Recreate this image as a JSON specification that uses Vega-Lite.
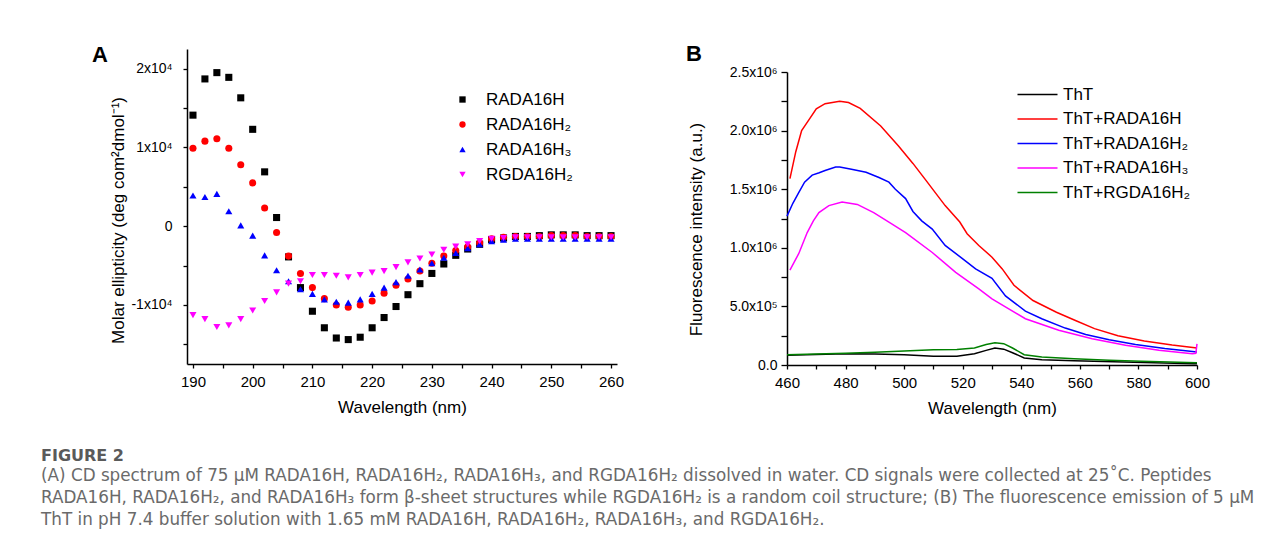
{
  "$schema": "https://vega.github.io/schema/vega-lite/v6.json",
  "background": "white",
  "padding": {"left": 41, "top": 43, "right": 5, "bottom": 5},
  "config": {
    "font": "Liberation Sans",
    "view": {"stroke": null},
    "axis": {
      "grid": false,
      "domainColor": "#000000",
      "domainWidth": 1.5,
      "tickColor": "#000000",
      "tickWidth": 1.3,
      "tickSize": 4,
      "labelColor": "#000000",
      "titleColor": "#000000",
      "labelFont": "Liberation Sans",
      "titleFont": "Liberation Sans",
      "labelFontSize": 15,
      "titleFontSize": 17,
      "titleFontWeight": "normal",
      "labelFlush": false
    },
    "legend": {
      "labelFont": "Liberation Sans",
      "labelFontSize": 17,
      "labelColor": "#000000",
      "padding": 0
    }
  },
  "title": {
    "text": "FIGURE 2",
    "subtitle": [
      "(A) CD spectrum of 75 μM RADA16H, RADA16H₂, RADA16H₃, and RGDA16H₂ dissolved in water. CD signals were collected at 25˚C. Peptides",
      "RADA16H, RADA16H₂, and RADA16H₃ form β-sheet structures while RGDA16H₂ is a random coil structure; (B) The fluorescence emission of 5 μM",
      "ThT in pH 7.4 buffer solution with 1.65 mM RADA16H, RADA16H₂, RADA16H₃, and RGDA16H₂."
    ],
    "orient": "bottom",
    "anchor": "start",
    "frame": "bounds",
    "dx": -51,
    "offset": 32,
    "font": "DejaVu Sans",
    "fontSize": 16,
    "fontWeight": "bold",
    "color": "#5a5a5a",
    "subtitleFont": "DejaVu Sans",
    "subtitleFontSize": 16.8,
    "subtitleColor": "#6a6a6a",
    "subtitleLineHeight": 22,
    "subtitlePadding": 4
  },
  "spacing": 62,
  "resolve": {
    "scale": {"color": "independent", "shape": "independent"},
    "legend": {"color": "independent", "shape": "independent"}
  },
  "hconcat": [
    {
      "width": 430,
      "height": 315,
      "title": {
        "text": "A",
        "anchor": "start",
        "frame": "group",
        "fontSize": 22,
        "fontWeight": "bold",
        "font": "Liberation Sans",
        "color": "#000000",
        "baseline": "alphabetic",
        "offset": 0,
        "dx": -95,
        "dy": 35
      },
      "data": {
        "values": [
          {"wavelength": 190, "ellipticity": 14100, "peptide": "RADA16H"},
          {"wavelength": 192, "ellipticity": 18700, "peptide": "RADA16H"},
          {"wavelength": 194, "ellipticity": 19500, "peptide": "RADA16H"},
          {"wavelength": 196, "ellipticity": 18900, "peptide": "RADA16H"},
          {"wavelength": 198, "ellipticity": 16300, "peptide": "RADA16H"},
          {"wavelength": 200, "ellipticity": 12300, "peptide": "RADA16H"},
          {"wavelength": 202, "ellipticity": 6900, "peptide": "RADA16H"},
          {"wavelength": 204, "ellipticity": 1100, "peptide": "RADA16H"},
          {"wavelength": 206, "ellipticity": -3900, "peptide": "RADA16H"},
          {"wavelength": 208, "ellipticity": -7800, "peptide": "RADA16H"},
          {"wavelength": 210, "ellipticity": -10800, "peptide": "RADA16H"},
          {"wavelength": 212, "ellipticity": -12900, "peptide": "RADA16H"},
          {"wavelength": 214, "ellipticity": -14200, "peptide": "RADA16H"},
          {"wavelength": 216, "ellipticity": -14400, "peptide": "RADA16H"},
          {"wavelength": 218, "ellipticity": -14100, "peptide": "RADA16H"},
          {"wavelength": 220, "ellipticity": -12900, "peptide": "RADA16H"},
          {"wavelength": 222, "ellipticity": -11600, "peptide": "RADA16H"},
          {"wavelength": 224, "ellipticity": -10200, "peptide": "RADA16H"},
          {"wavelength": 226, "ellipticity": -8700, "peptide": "RADA16H"},
          {"wavelength": 228, "ellipticity": -7300, "peptide": "RADA16H"},
          {"wavelength": 230, "ellipticity": -6000, "peptide": "RADA16H"},
          {"wavelength": 232, "ellipticity": -4800, "peptide": "RADA16H"},
          {"wavelength": 234, "ellipticity": -3700, "peptide": "RADA16H"},
          {"wavelength": 236, "ellipticity": -2900, "peptide": "RADA16H"},
          {"wavelength": 238, "ellipticity": -2300, "peptide": "RADA16H"},
          {"wavelength": 240, "ellipticity": -1700, "peptide": "RADA16H"},
          {"wavelength": 242, "ellipticity": -1500, "peptide": "RADA16H"},
          {"wavelength": 244, "ellipticity": -1300, "peptide": "RADA16H"},
          {"wavelength": 246, "ellipticity": -1300, "peptide": "RADA16H"},
          {"wavelength": 248, "ellipticity": -1200, "peptide": "RADA16H"},
          {"wavelength": 250, "ellipticity": -1100, "peptide": "RADA16H"},
          {"wavelength": 252, "ellipticity": -1100, "peptide": "RADA16H"},
          {"wavelength": 254, "ellipticity": -1100, "peptide": "RADA16H"},
          {"wavelength": 256, "ellipticity": -1200, "peptide": "RADA16H"},
          {"wavelength": 258, "ellipticity": -1200, "peptide": "RADA16H"},
          {"wavelength": 260, "ellipticity": -1200, "peptide": "RADA16H"},
          {"wavelength": 190, "ellipticity": 9900, "peptide": "RADA16H₂"},
          {"wavelength": 192, "ellipticity": 10800, "peptide": "RADA16H₂"},
          {"wavelength": 194, "ellipticity": 11100, "peptide": "RADA16H₂"},
          {"wavelength": 196, "ellipticity": 9900, "peptide": "RADA16H₂"},
          {"wavelength": 198, "ellipticity": 7800, "peptide": "RADA16H₂"},
          {"wavelength": 200, "ellipticity": 5500, "peptide": "RADA16H₂"},
          {"wavelength": 202, "ellipticity": 2300, "peptide": "RADA16H₂"},
          {"wavelength": 204, "ellipticity": -800, "peptide": "RADA16H₂"},
          {"wavelength": 206, "ellipticity": -3800, "peptide": "RADA16H₂"},
          {"wavelength": 208, "ellipticity": -6000, "peptide": "RADA16H₂"},
          {"wavelength": 210, "ellipticity": -7800, "peptide": "RADA16H₂"},
          {"wavelength": 212, "ellipticity": -9200, "peptide": "RADA16H₂"},
          {"wavelength": 214, "ellipticity": -10000, "peptide": "RADA16H₂"},
          {"wavelength": 216, "ellipticity": -10300, "peptide": "RADA16H₂"},
          {"wavelength": 218, "ellipticity": -10000, "peptide": "RADA16H₂"},
          {"wavelength": 220, "ellipticity": -9500, "peptide": "RADA16H₂"},
          {"wavelength": 222, "ellipticity": -8500, "peptide": "RADA16H₂"},
          {"wavelength": 224, "ellipticity": -7500, "peptide": "RADA16H₂"},
          {"wavelength": 226, "ellipticity": -6700, "peptide": "RADA16H₂"},
          {"wavelength": 228, "ellipticity": -5700, "peptide": "RADA16H₂"},
          {"wavelength": 230, "ellipticity": -4700, "peptide": "RADA16H₂"},
          {"wavelength": 232, "ellipticity": -3800, "peptide": "RADA16H₂"},
          {"wavelength": 234, "ellipticity": -3100, "peptide": "RADA16H₂"},
          {"wavelength": 236, "ellipticity": -2600, "peptide": "RADA16H₂"},
          {"wavelength": 238, "ellipticity": -2100, "peptide": "RADA16H₂"},
          {"wavelength": 240, "ellipticity": -1600, "peptide": "RADA16H₂"},
          {"wavelength": 242, "ellipticity": -1400, "peptide": "RADA16H₂"},
          {"wavelength": 244, "ellipticity": -1300, "peptide": "RADA16H₂"},
          {"wavelength": 246, "ellipticity": -1300, "peptide": "RADA16H₂"},
          {"wavelength": 248, "ellipticity": -1300, "peptide": "RADA16H₂"},
          {"wavelength": 250, "ellipticity": -1200, "peptide": "RADA16H₂"},
          {"wavelength": 252, "ellipticity": -1200, "peptide": "RADA16H₂"},
          {"wavelength": 254, "ellipticity": -1200, "peptide": "RADA16H₂"},
          {"wavelength": 256, "ellipticity": -1300, "peptide": "RADA16H₂"},
          {"wavelength": 258, "ellipticity": -1300, "peptide": "RADA16H₂"},
          {"wavelength": 260, "ellipticity": -1300, "peptide": "RADA16H₂"},
          {"wavelength": 190, "ellipticity": 3900, "peptide": "RADA16H₃"},
          {"wavelength": 192, "ellipticity": 3700, "peptide": "RADA16H₃"},
          {"wavelength": 194, "ellipticity": 4100, "peptide": "RADA16H₃"},
          {"wavelength": 196, "ellipticity": 1900, "peptide": "RADA16H₃"},
          {"wavelength": 198, "ellipticity": 100, "peptide": "RADA16H₃"},
          {"wavelength": 200, "ellipticity": -1200, "peptide": "RADA16H₃"},
          {"wavelength": 202, "ellipticity": -3700, "peptide": "RADA16H₃"},
          {"wavelength": 204, "ellipticity": -5600, "peptide": "RADA16H₃"},
          {"wavelength": 206, "ellipticity": -7000, "peptide": "RADA16H₃"},
          {"wavelength": 208, "ellipticity": -8000, "peptide": "RADA16H₃"},
          {"wavelength": 210, "ellipticity": -8600, "peptide": "RADA16H₃"},
          {"wavelength": 212, "ellipticity": -9300, "peptide": "RADA16H₃"},
          {"wavelength": 214, "ellipticity": -9600, "peptide": "RADA16H₃"},
          {"wavelength": 216, "ellipticity": -9700, "peptide": "RADA16H₃"},
          {"wavelength": 218, "ellipticity": -9300, "peptide": "RADA16H₃"},
          {"wavelength": 220, "ellipticity": -8600, "peptide": "RADA16H₃"},
          {"wavelength": 222, "ellipticity": -7800, "peptide": "RADA16H₃"},
          {"wavelength": 224, "ellipticity": -7100, "peptide": "RADA16H₃"},
          {"wavelength": 226, "ellipticity": -6300, "peptide": "RADA16H₃"},
          {"wavelength": 228, "ellipticity": -5500, "peptide": "RADA16H₃"},
          {"wavelength": 230, "ellipticity": -4700, "peptide": "RADA16H₃"},
          {"wavelength": 232, "ellipticity": -4000, "peptide": "RADA16H₃"},
          {"wavelength": 234, "ellipticity": -3400, "peptide": "RADA16H₃"},
          {"wavelength": 236, "ellipticity": -2800, "peptide": "RADA16H₃"},
          {"wavelength": 238, "ellipticity": -2300, "peptide": "RADA16H₃"},
          {"wavelength": 240, "ellipticity": -1900, "peptide": "RADA16H₃"},
          {"wavelength": 242, "ellipticity": -1700, "peptide": "RADA16H₃"},
          {"wavelength": 244, "ellipticity": -1600, "peptide": "RADA16H₃"},
          {"wavelength": 246, "ellipticity": -1600, "peptide": "RADA16H₃"},
          {"wavelength": 248, "ellipticity": -1600, "peptide": "RADA16H₃"},
          {"wavelength": 250, "ellipticity": -1600, "peptide": "RADA16H₃"},
          {"wavelength": 252, "ellipticity": -1600, "peptide": "RADA16H₃"},
          {"wavelength": 254, "ellipticity": -1600, "peptide": "RADA16H₃"},
          {"wavelength": 256, "ellipticity": -1600, "peptide": "RADA16H₃"},
          {"wavelength": 258, "ellipticity": -1600, "peptide": "RADA16H₃"},
          {"wavelength": 260, "ellipticity": -1600, "peptide": "RADA16H₃"},
          {"wavelength": 190, "ellipticity": -11300, "peptide": "RGDA16H₂"},
          {"wavelength": 192, "ellipticity": -11800, "peptide": "RGDA16H₂"},
          {"wavelength": 194, "ellipticity": -12800, "peptide": "RGDA16H₂"},
          {"wavelength": 196, "ellipticity": -12600, "peptide": "RGDA16H₂"},
          {"wavelength": 198, "ellipticity": -11800, "peptide": "RGDA16H₂"},
          {"wavelength": 200, "ellipticity": -10700, "peptide": "RGDA16H₂"},
          {"wavelength": 202, "ellipticity": -9500, "peptide": "RGDA16H₂"},
          {"wavelength": 204, "ellipticity": -8400, "peptide": "RGDA16H₂"},
          {"wavelength": 206, "ellipticity": -7300, "peptide": "RGDA16H₂"},
          {"wavelength": 208, "ellipticity": -7000, "peptide": "RGDA16H₂"},
          {"wavelength": 210, "ellipticity": -6200, "peptide": "RGDA16H₂"},
          {"wavelength": 212, "ellipticity": -6200, "peptide": "RGDA16H₂"},
          {"wavelength": 214, "ellipticity": -6300, "peptide": "RGDA16H₂"},
          {"wavelength": 216, "ellipticity": -6500, "peptide": "RGDA16H₂"},
          {"wavelength": 218, "ellipticity": -6200, "peptide": "RGDA16H₂"},
          {"wavelength": 220, "ellipticity": -5900, "peptide": "RGDA16H₂"},
          {"wavelength": 222, "ellipticity": -5700, "peptide": "RGDA16H₂"},
          {"wavelength": 224, "ellipticity": -5200, "peptide": "RGDA16H₂"},
          {"wavelength": 226, "ellipticity": -4600, "peptide": "RGDA16H₂"},
          {"wavelength": 228, "ellipticity": -4100, "peptide": "RGDA16H₂"},
          {"wavelength": 230, "ellipticity": -3600, "peptide": "RGDA16H₂"},
          {"wavelength": 232, "ellipticity": -3000, "peptide": "RGDA16H₂"},
          {"wavelength": 234, "ellipticity": -2600, "peptide": "RGDA16H₂"},
          {"wavelength": 236, "ellipticity": -2300, "peptide": "RGDA16H₂"},
          {"wavelength": 238, "ellipticity": -1900, "peptide": "RGDA16H₂"},
          {"wavelength": 240, "ellipticity": -1600, "peptide": "RGDA16H₂"},
          {"wavelength": 242, "ellipticity": -1500, "peptide": "RGDA16H₂"},
          {"wavelength": 244, "ellipticity": -1400, "peptide": "RGDA16H₂"},
          {"wavelength": 246, "ellipticity": -1400, "peptide": "RGDA16H₂"},
          {"wavelength": 248, "ellipticity": -1400, "peptide": "RGDA16H₂"},
          {"wavelength": 250, "ellipticity": -1400, "peptide": "RGDA16H₂"},
          {"wavelength": 252, "ellipticity": -1400, "peptide": "RGDA16H₂"},
          {"wavelength": 254, "ellipticity": -1400, "peptide": "RGDA16H₂"},
          {"wavelength": 256, "ellipticity": -1400, "peptide": "RGDA16H₂"},
          {"wavelength": 258, "ellipticity": -1400, "peptide": "RGDA16H₂"},
          {"wavelength": 260, "ellipticity": -1400, "peptide": "RGDA16H₂"}
        ]
      },
      "mark": {"type": "point", "filled": true, "size": 50, "opacity": 1},
      "encoding": {
        "x": {
          "field": "wavelength",
          "type": "quantitative",
          "scale": {"domain": [189, 261], "nice": false, "zero": false},
          "axis": {
            "title": "Wavelength (nm)",
            "values": [190, 195, 200, 205, 210, 215, 220, 225, 230, 235, 240, 245, 250, 255, 260],
            "labelExpr": "datum.value % 10 == 0 ? datum.label : ''",
            "labelPadding": 6,
            "titlePadding": 10,
            "labelFontSize": 15
          }
        },
        "y": {
          "field": "ellipticity",
          "type": "quantitative",
          "scale": {"domain": [-17500, 22500], "nice": false, "zero": false},
          "axis": {
            "title": "Molar ellipticity (deg com²dmol⁻¹)",
            "values": [-15000, -10000, -5000, 0, 5000, 10000, 15000, 20000],
            "labelExpr": "datum.value == 20000 ? '2x10⁴' : datum.value == 10000 ? '1x10⁴' : datum.value == 0 ? '0' : datum.value == -10000 ? '-1x10⁴' : ''",
            "labelPadding": 11,
            "titlePadding": 3,
            "labelFontSize": 14,
            "titleY": 171
          }
        },
        "color": {
          "field": "peptide",
          "type": "nominal",
          "scale": {
            "domain": ["RADA16H", "RADA16H₂", "RADA16H₃", "RGDA16H₂"],
            "range": ["#000000", "#ff0000", "#0000ff", "#ff00ff"]
          },
          "legend": {
            "title": null,
            "orient": "none",
            "legendX": 267,
            "legendY": 42,
            "symbolSize": 40,
            "labelOffset": 15,
            "rowPadding": 7
          }
        },
        "shape": {
          "field": "peptide",
          "type": "nominal",
          "scale": {
            "domain": ["RADA16H", "RADA16H₂", "RADA16H₃", "RGDA16H₂"],
            "range": ["square", "circle", "triangle-up", "triangle-down"]
          },
          "legend": {
            "title": null,
            "orient": "none",
            "legendX": 267,
            "legendY": 42,
            "symbolSize": 40,
            "labelOffset": 15,
            "rowPadding": 7
          }
        }
      }
    },
    {
      "width": 410,
      "height": 316,
      "title": {
        "text": "B",
        "anchor": "start",
        "frame": "group",
        "fontSize": 22,
        "fontWeight": "bold",
        "font": "Liberation Sans",
        "color": "#000000",
        "baseline": "alphabetic",
        "offset": 0,
        "dx": -101,
        "dy": 34
      },
      "data": {
        "values": [
          {"wavelength": 460, "intensity": 83000, "sample": "ThT"},
          {"wavelength": 470, "intensity": 90000, "sample": "ThT"},
          {"wavelength": 480, "intensity": 96000, "sample": "ThT"},
          {"wavelength": 490, "intensity": 94000, "sample": "ThT"},
          {"wavelength": 500, "intensity": 88000, "sample": "ThT"},
          {"wavelength": 510, "intensity": 74000, "sample": "ThT"},
          {"wavelength": 518, "intensity": 75000, "sample": "ThT"},
          {"wavelength": 524, "intensity": 96000, "sample": "ThT"},
          {"wavelength": 528, "intensity": 125000, "sample": "ThT"},
          {"wavelength": 531, "intensity": 145000, "sample": "ThT"},
          {"wavelength": 534, "intensity": 135000, "sample": "ThT"},
          {"wavelength": 537, "intensity": 105000, "sample": "ThT"},
          {"wavelength": 541, "intensity": 60000, "sample": "ThT"},
          {"wavelength": 547, "intensity": 45000, "sample": "ThT"},
          {"wavelength": 558, "intensity": 37000, "sample": "ThT"},
          {"wavelength": 575, "intensity": 26000, "sample": "ThT"},
          {"wavelength": 599, "intensity": 11000, "sample": "ThT"},
          {"wavelength": 600, "intensity": 10000, "sample": "ThT"},
          {"wavelength": 461, "intensity": 1590000, "sample": "ThT+RADA16H"},
          {"wavelength": 463, "intensity": 1820000, "sample": "ThT+RADA16H"},
          {"wavelength": 465, "intensity": 2000000, "sample": "ThT+RADA16H"},
          {"wavelength": 467.7, "intensity": 2100000, "sample": "ThT+RADA16H"},
          {"wavelength": 470, "intensity": 2185000, "sample": "ThT+RADA16H"},
          {"wavelength": 473, "intensity": 2230000, "sample": "ThT+RADA16H"},
          {"wavelength": 478, "intensity": 2250000, "sample": "ThT+RADA16H"},
          {"wavelength": 481, "intensity": 2240000, "sample": "ThT+RADA16H"},
          {"wavelength": 485, "intensity": 2190000, "sample": "ThT+RADA16H"},
          {"wavelength": 492, "intensity": 2040000, "sample": "ThT+RADA16H"},
          {"wavelength": 498, "intensity": 1870000, "sample": "ThT+RADA16H"},
          {"wavelength": 503, "intensity": 1720000, "sample": "ThT+RADA16H"},
          {"wavelength": 507, "intensity": 1590000, "sample": "ThT+RADA16H"},
          {"wavelength": 514, "intensity": 1360000, "sample": "ThT+RADA16H"},
          {"wavelength": 519, "intensity": 1220000, "sample": "ThT+RADA16H"},
          {"wavelength": 521.5, "intensity": 1120000, "sample": "ThT+RADA16H"},
          {"wavelength": 525.5, "intensity": 1020000, "sample": "ThT+RADA16H"},
          {"wavelength": 530, "intensity": 920000, "sample": "ThT+RADA16H"},
          {"wavelength": 533.5, "intensity": 820000, "sample": "ThT+RADA16H"},
          {"wavelength": 537.5, "intensity": 680000, "sample": "ThT+RADA16H"},
          {"wavelength": 544, "intensity": 550000, "sample": "ThT+RADA16H"},
          {"wavelength": 552, "intensity": 450000, "sample": "ThT+RADA16H"},
          {"wavelength": 558.5, "intensity": 380000, "sample": "ThT+RADA16H"},
          {"wavelength": 565, "intensity": 310000, "sample": "ThT+RADA16H"},
          {"wavelength": 573, "intensity": 250000, "sample": "ThT+RADA16H"},
          {"wavelength": 582, "intensity": 205000, "sample": "ThT+RADA16H"},
          {"wavelength": 591.5, "intensity": 170000, "sample": "ThT+RADA16H"},
          {"wavelength": 600, "intensity": 145000, "sample": "ThT+RADA16H"},
          {"wavelength": 460, "intensity": 1270000, "sample": "ThT+RADA16H₂"},
          {"wavelength": 462, "intensity": 1380000, "sample": "ThT+RADA16H₂"},
          {"wavelength": 464, "intensity": 1470000, "sample": "ThT+RADA16H₂"},
          {"wavelength": 466, "intensity": 1560000, "sample": "ThT+RADA16H₂"},
          {"wavelength": 468.6, "intensity": 1620000, "sample": "ThT+RADA16H₂"},
          {"wavelength": 471, "intensity": 1640000, "sample": "ThT+RADA16H₂"},
          {"wavelength": 473, "intensity": 1660000, "sample": "ThT+RADA16H₂"},
          {"wavelength": 476.6, "intensity": 1690000, "sample": "ThT+RADA16H₂"},
          {"wavelength": 478, "intensity": 1690000, "sample": "ThT+RADA16H₂"},
          {"wavelength": 482, "intensity": 1670000, "sample": "ThT+RADA16H₂"},
          {"wavelength": 487, "intensity": 1645000, "sample": "ThT+RADA16H₂"},
          {"wavelength": 491.4, "intensity": 1600000, "sample": "ThT+RADA16H₂"},
          {"wavelength": 494.8, "intensity": 1560000, "sample": "ThT+RADA16H₂"},
          {"wavelength": 497, "intensity": 1500000, "sample": "ThT+RADA16H₂"},
          {"wavelength": 500.5, "intensity": 1420000, "sample": "ThT+RADA16H₂"},
          {"wavelength": 503, "intensity": 1310000, "sample": "ThT+RADA16H₂"},
          {"wavelength": 506, "intensity": 1230000, "sample": "ThT+RADA16H₂"},
          {"wavelength": 509.6, "intensity": 1160000, "sample": "ThT+RADA16H₂"},
          {"wavelength": 514, "intensity": 1020000, "sample": "ThT+RADA16H₂"},
          {"wavelength": 519.8, "intensity": 910000, "sample": "ThT+RADA16H₂"},
          {"wavelength": 524.4, "intensity": 820000, "sample": "ThT+RADA16H₂"},
          {"wavelength": 530, "intensity": 740000, "sample": "ThT+RADA16H₂"},
          {"wavelength": 534.6, "intensity": 590000, "sample": "ThT+RADA16H₂"},
          {"wavelength": 541.4, "intensity": 460000, "sample": "ThT+RADA16H₂"},
          {"wavelength": 547, "intensity": 395000, "sample": "ThT+RADA16H₂"},
          {"wavelength": 555, "intensity": 315000, "sample": "ThT+RADA16H₂"},
          {"wavelength": 562, "intensity": 260000, "sample": "ThT+RADA16H₂"},
          {"wavelength": 570, "intensity": 215000, "sample": "ThT+RADA16H₂"},
          {"wavelength": 579, "intensity": 175000, "sample": "ThT+RADA16H₂"},
          {"wavelength": 589, "intensity": 140000, "sample": "ThT+RADA16H₂"},
          {"wavelength": 600, "intensity": 110000, "sample": "ThT+RADA16H₂"},
          {"wavelength": 461, "intensity": 810000, "sample": "ThT+RADA16H₃"},
          {"wavelength": 462.5, "intensity": 880000, "sample": "ThT+RADA16H₃"},
          {"wavelength": 464, "intensity": 950000, "sample": "ThT+RADA16H₃"},
          {"wavelength": 466.9, "intensity": 1130000, "sample": "ThT+RADA16H₃"},
          {"wavelength": 469, "intensity": 1230000, "sample": "ThT+RADA16H₃"},
          {"wavelength": 470.9, "intensity": 1300000, "sample": "ThT+RADA16H₃"},
          {"wavelength": 474.3, "intensity": 1360000, "sample": "ThT+RADA16H₃"},
          {"wavelength": 478.8, "intensity": 1390000, "sample": "ThT+RADA16H₃"},
          {"wavelength": 484, "intensity": 1370000, "sample": "ThT+RADA16H₃"},
          {"wavelength": 489.6, "intensity": 1300000, "sample": "ThT+RADA16H₃"},
          {"wavelength": 494.8, "intensity": 1220000, "sample": "ThT+RADA16H₃"},
          {"wavelength": 500.5, "intensity": 1130000, "sample": "ThT+RADA16H₃"},
          {"wavelength": 509.6, "intensity": 960000, "sample": "ThT+RADA16H₃"},
          {"wavelength": 517.6, "intensity": 790000, "sample": "ThT+RADA16H₃"},
          {"wavelength": 525.5, "intensity": 650000, "sample": "ThT+RADA16H₃"},
          {"wavelength": 530, "intensity": 565000, "sample": "ThT+RADA16H₃"},
          {"wavelength": 535, "intensity": 490000, "sample": "ThT+RADA16H₃"},
          {"wavelength": 541.4, "intensity": 395000, "sample": "ThT+RADA16H₃"},
          {"wavelength": 552.8, "intensity": 296000, "sample": "ThT+RADA16H₃"},
          {"wavelength": 564.2, "intensity": 224000, "sample": "ThT+RADA16H₃"},
          {"wavelength": 575.6, "intensity": 168000, "sample": "ThT+RADA16H₃"},
          {"wavelength": 587, "intensity": 125000, "sample": "ThT+RADA16H₃"},
          {"wavelength": 598.4, "intensity": 96000, "sample": "ThT+RADA16H₃"},
          {"wavelength": 599.6, "intensity": 100000, "sample": "ThT+RADA16H₃"},
          {"wavelength": 600, "intensity": 180000, "sample": "ThT+RADA16H₃"},
          {"wavelength": 460, "intensity": 88000, "sample": "ThT+RGDA16H₂"},
          {"wavelength": 470, "intensity": 93000, "sample": "ThT+RGDA16H₂"},
          {"wavelength": 480, "intensity": 100000, "sample": "ThT+RGDA16H₂"},
          {"wavelength": 490, "intensity": 108000, "sample": "ThT+RGDA16H₂"},
          {"wavelength": 500, "intensity": 120000, "sample": "ThT+RGDA16H₂"},
          {"wavelength": 510, "intensity": 130000, "sample": "ThT+RGDA16H₂"},
          {"wavelength": 518, "intensity": 132000, "sample": "ThT+RGDA16H₂"},
          {"wavelength": 524, "intensity": 145000, "sample": "ThT+RGDA16H₂"},
          {"wavelength": 528, "intensity": 175000, "sample": "ThT+RGDA16H₂"},
          {"wavelength": 531, "intensity": 190000, "sample": "ThT+RGDA16H₂"},
          {"wavelength": 534, "intensity": 182000, "sample": "ThT+RGDA16H₂"},
          {"wavelength": 537, "intensity": 145000, "sample": "ThT+RGDA16H₂"},
          {"wavelength": 541, "intensity": 88000, "sample": "ThT+RGDA16H₂"},
          {"wavelength": 547, "intensity": 68000, "sample": "ThT+RGDA16H₂"},
          {"wavelength": 558, "intensity": 54000, "sample": "ThT+RGDA16H₂"},
          {"wavelength": 570, "intensity": 40000, "sample": "ThT+RGDA16H₂"},
          {"wavelength": 581, "intensity": 32000, "sample": "ThT+RGDA16H₂"},
          {"wavelength": 600, "intensity": 20000, "sample": "ThT+RGDA16H₂"}
        ]
      },
      "mark": {"type": "line", "strokeWidth": 1.5},
      "encoding": {
        "x": {
          "field": "wavelength",
          "type": "quantitative",
          "scale": {"domain": [460, 600], "nice": false, "zero": false},
          "axis": {
            "title": "Wavelength (nm)",
            "values": [460, 470, 480, 490, 500, 510, 520, 530, 540, 550, 560, 570, 580, 590, 600],
            "labelExpr": "datum.value % 20 == 0 ? datum.label : ''",
            "labelPadding": 6,
            "titlePadding": 10,
            "labelFontSize": 15
          }
        },
        "y": {
          "field": "intensity",
          "type": "quantitative",
          "scale": {"domain": [0, 2500000], "nice": false, "range": [316, 23]},
          "axis": {
            "title": "Fluorescence intensity (a.u.)",
            "values": [0, 250000, 500000, 750000, 1000000, 1250000, 1500000, 1750000, 2000000, 2250000, 2500000],
            "labelExpr": "datum.value == 0 ? '0.0' : datum.value == 500000 ? '5.0x10⁵' : datum.value == 1000000 ? '1.0x10⁶' : datum.value == 1500000 ? '1.5x10⁶' : datum.value == 2000000 ? '2.0x10⁶' : datum.value == 2500000 ? '2.5x10⁶' : ''",
            "tickSize": 6,
            "labelPadding": 4,
            "titlePadding": 24,
            "labelFontSize": 14,
            "titleY": 180
          }
        },
        "color": {
          "field": "sample",
          "type": "nominal",
          "scale": {
            "domain": ["ThT", "ThT+RADA16H", "ThT+RADA16H₂", "ThT+RADA16H₃", "ThT+RGDA16H₂"],
            "range": ["#000000", "#ff0000", "#0000ff", "#ff00ff", "#008000"]
          },
          "legend": {
            "title": null,
            "orient": "none",
            "legendX": 242,
            "legendY": 37,
            "symbolType": "M-4,0H4",
            "symbolSize": 100,
            "symbolStrokeWidth": 1.5,
            "labelOffset": 17,
            "rowPadding": 6.5
          }
        }
      }
    }
  ]
}
